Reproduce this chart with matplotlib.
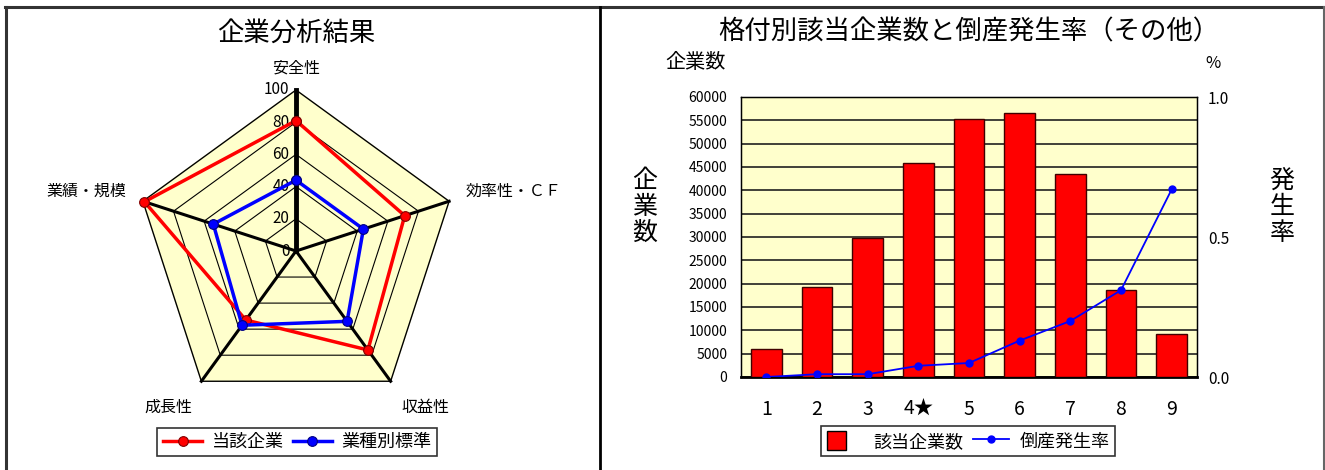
import numpy as np
import matplotlib
matplotlib.use('Agg')
import matplotlib.pyplot as plt
from matplotlib.lines import Line2D
from matplotlib.patches import Patch, Rectangle
from matplotlib.legend_handler import HandlerPatch

plt.rcParams['font.family'] = ['Noto Sans CJK JP', 'DejaVu Sans']

# ── data ─────────────────────────────────────────────────────────────────────
radar_labels = ['安全性', '効率性・ＣＦ', '収益性', '成長性', '業績・規模']
company      = [81, 71, 76, 53, 99]      # 当該企業
industry     = [44, 44, 54, 57, 54]      # 業種別標準
radar_ticks  = [0, 20, 40, 60, 80, 100]

grades = ['1', '2', '3', '4★', '5', '6', '7', '8', '9']
firms  = [6100, 19200, 29800, 45800, 55300, 56500, 43500, 18600, 9200]
rate   = [0.00, 0.01, 0.01, 0.04, 0.05, 0.13, 0.20, 0.31, 0.67]

W, H = 1325, 470
fig = plt.figure(figsize=(W / 100, H / 100), dpi=100)


def fx(px):
    return px / W


def fy(py):
    return 1 - py / H


# panel frames
frame = dict(transform=fig.transFigure, color='#333333')
fig.add_artist(Line2D([fx(5), fx(1325)], [fy(7), fy(7)], lw=2.2, **frame))
fig.add_artist(Line2D([fx(6), fx(6)], [fy(7), 0], lw=2.2, **frame))
fig.add_artist(Line2D([fx(600), fx(600)], [fy(7), 0], lw=2, transform=fig.transFigure, color='black'))
fig.add_artist(Line2D([fx(1324), fx(1324)], [fy(7), 0], lw=1.5, transform=fig.transFigure, color='#666666'))

# ── left: radar chart ────────────────────────────────────────────────────────
scale = 1.61                     # pixels per radar unit
cx, cy = 296, 251                # centre in pixels
axr = fig.add_axes([0, 0, fx(600), 1])
axr.set_xlim(-cx / scale, (600 - cx) / scale)
axr.set_ylim(-(H - cy) / scale, cy / scale)
axr.axis('off')

angles = np.deg2rad(90 - 72 * np.arange(len(radar_labels)))
ca, sa = np.cos(angles), np.sin(angles)


def closed(v):
    v = np.asarray(v, dtype=float)
    return np.append(v, v[0])


rmax = radar_ticks[-1]
axr.fill(closed(rmax * ca), closed(rmax * sa), color='#FFFFCC', zorder=1)
for t in radar_ticks[1:]:
    axr.plot(closed(t * ca), closed(t * sa), color='black',
             lw=1.0 if t == rmax else 0.8, zorder=2)
for i in range(len(radar_labels)):
    axr.plot([0, rmax * ca[i]], [0, rmax * sa[i]], color='black',
             lw=3.5 if i == 0 else 2.2, zorder=3)
for t in radar_ticks:
    axr.text(-4, t, str(t), ha='right', va='center', fontsize=11, zorder=2)

axr.plot(closed(np.array(company) * ca), closed(np.array(company) * sa),
         color='#FF0000', lw=2.5, marker='o', ms=7, mfc='#FF0000',
         mec='#800000', mew=0.8, zorder=5, label='当該企業')
axr.plot(closed(np.array(industry) * ca), closed(np.array(industry) * sa),
         color='#0000FF', lw=2.5, marker='o', ms=7, mfc='#0000FF',
         mec='#000080', mew=0.8, zorder=6, label='業種別標準')

label_pos = [(0, 113.7), (134.8, 36.8), (80.5, -96.9), (-79.5, -96.9), (-130, 37)]
for lab, (x, y) in zip(radar_labels, label_pos):
    axr.text(x, y, lab, ha='center', va='center', fontsize=11.5)

fig.text(fx(296), fy(33), '企業分析結果', ha='center', va='center', fontsize=19)
fig.legend(handles=axr.get_lines()[-2:], loc='center',
           bbox_to_anchor=(fx(297), fy(442)), ncol=2, fontsize=13,
           frameon=True, fancybox=False, edgecolor='black',
           handlelength=2.2, columnspacing=0.5, borderpad=0.3,
           handletextpad=0.5).get_frame().set_linewidth(1.2)

# ── right: bars + rate line ──────────────────────────────────────────────────
ax = fig.add_axes([fx(741), fy(377), fx(1197 - 741), (377 - 97) / H])
ax.set_facecolor('#FFFFCC')
x = np.arange(len(grades))
ax.bar(x, firms, width=0.6, color='#FF0000', edgecolor='#400000', lw=1, zorder=3)
ax.set_xlim(-0.5, len(grades) - 0.5)
ax.set_ylim(0, 60000)
ax.set_yticks(np.arange(0, 60001, 5000))
ax.yaxis.grid(True, color='#202020', lw=1.2, zorder=1)
ax.set_axisbelow(True)
ax.set_xticks(x)
ax.set_xticklabels(grades, fontsize=14)
ax.tick_params(axis='x', length=0, pad=16)
ax.tick_params(axis='y', length=0, pad=10, labelsize=10)
for s in ['top', 'right', 'left']:
    ax.spines[s].set_linewidth(1.0)
ax.spines['bottom'].set_linewidth(2)

ax2 = ax.twinx()
ax2.plot(x, rate, color='#0000FF', lw=1.3, marker='o', ms=5, zorder=5)
ax2.set_ylim(0, 1.0)
ax2.set_yticks([0, 0.5, 1.0])
ax2.set_yticklabels(['0.0', '0.5', '1.0'])
ax2.tick_params(axis='y', length=0, pad=8, labelsize=11)

fig.text(fx(969), fy(32), '格付別該当企業数と倒産発生率（その他）',
         ha='center', va='center', fontsize=19)
fig.text(fx(696), fy(63), '企業数', ha='center', va='center', fontsize=14.5)
fig.text(fx(1213), fy(63), '%', ha='center', va='center', fontsize=12)
fig.text(fx(645), fy(207), '企\n業\n数', ha='center', va='center',
         fontsize=18, linespacing=1.0)
fig.text(fx(1282), fy(207), '発\n生\n率', ha='center', va='center',
         fontsize=18, linespacing=1.0)


def square_patch(legend, orig_handle, xdescent, ydescent, width, height, fontsize):
    side = height
    return Rectangle((-xdescent + (width - side) / 2 - 6, -ydescent), side, side)


handles = [Patch(facecolor='#FF0000', edgecolor='black', label='該当企業数'),
           Line2D([], [], color='#0000FF', lw=1.3, marker='o', ms=5, label='倒産発生率')]
fig.legend(handles=handles, loc='center', bbox_to_anchor=(fx(968), fy(441)),
           ncol=2, fontsize=13, frameon=True, fancybox=False,
           edgecolor='black', handlelength=2.0, handleheight=1.2,
           columnspacing=0.5, borderpad=0.3, handletextpad=0.6,
           handler_map={Patch: HandlerPatch(patch_func=square_patch)}
           ).get_frame().set_linewidth(1.2)

fig.savefig('out.png', dpi=100)
